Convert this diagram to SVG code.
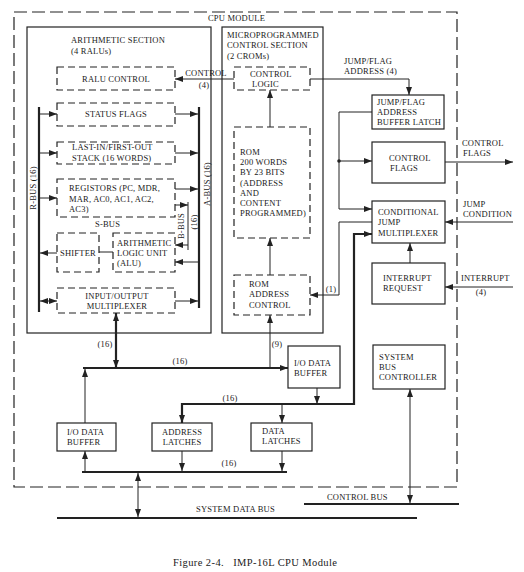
<svg xmlns="http://www.w3.org/2000/svg" width="524" height="572" viewBox="0 0 524 572">
<style>
.t{font-family:"Liberation Serif","Times New Roman",serif;font-size:8.5px;letter-spacing:0.2px;fill:#1a1a1a}
.c{text-anchor:middle}
.box{fill:none;stroke:#222;stroke-width:1.2}
.dbox{fill:none;stroke:#222;stroke-width:1.2;stroke-dasharray:7 4}
.ln{fill:none;stroke:#222;stroke-width:1}
.bus{fill:none;stroke:#222;stroke-width:2.2}
.cap{font-family:"Liberation Serif","Times New Roman",serif;font-size:10.5px;letter-spacing:0.4px;fill:#1a1a1a}
</style>
<defs>
<marker id="ah" viewBox="0 0 8 6" refX="8" refY="3" markerWidth="8" markerHeight="6" markerUnits="userSpaceOnUse" orient="auto-start-reverse"><path d="M0,0 L8,3 L0,6 z" fill="#222"/></marker>
</defs>
<rect width="524" height="572" fill="#fff"/>

<g id="cpu-module">
<rect x="14" y="12" width="443" height="475" fill="none" stroke="#222" stroke-width="1.2" stroke-dasharray="13 5"/>
<text class="t" x="208" y="21">CPU MODULE</text>
</g>

<g id="arithmetic-section">
<rect class="box" x="27" y="27" width="184" height="306"/>
<text class="t" x="71" y="43">ARITHMETIC SECTION</text>
<text class="t" x="71" y="54">(4 RALUs)</text>
</g>
<g id="ralu-control"><rect class="dbox" x="57" y="67" width="118" height="23"/><text class="t c" x="116" y="82">RALU CONTROL</text></g>
<g id="status-flags"><rect class="dbox" x="57" y="103" width="118" height="23"/><text class="t c" x="116" y="117">STATUS FLAGS</text></g>
<g id="lifo"><rect class="dbox" x="57" y="142" width="118" height="22"/><text class="t" x="72" y="150">LAST-IN/FIRST-OUT</text><text class="t" x="72" y="161">STACK (16 WORDS)</text></g>
<g id="registors"><rect class="dbox" x="57" y="179" width="118" height="38"/><text class="t" x="69" y="191">REGISTORS (PC, MDR,</text><text class="t" x="69" y="202">MAR, AC0, AC1, AC2,</text><text class="t" x="69" y="212">AC3)</text></g>
<g id="s-bus-label"><text class="t" x="95" y="227">S-BUS</text></g>
<g id="shifter"><rect class="dbox" x="57" y="233" width="42" height="39"/><text class="t c" x="78" y="256">SHIFTER</text></g>
<g id="alu"><rect class="dbox" x="113" y="233" width="62" height="39"/><text class="t" x="117" y="246">ARITHMETIC</text><text class="t" x="117" y="256">LOGIC UNIT</text><text class="t" x="117" y="266">(ALU)</text></g>
<g id="io-multiplexer"><rect class="dbox" x="57" y="288" width="118" height="25"/><text class="t c" x="117" y="299">INPUT/OUTPUT</text><text class="t c" x="117" y="309">MULTIPLEXER</text></g>

<g id="control-section">
<rect class="box" x="222" y="27" width="101" height="306"/>
<text class="t" x="227" y="38">MICROPROGRAMMED</text>
<text class="t" x="227" y="48">CONTROL SECTION</text>
<text class="t" x="227" y="59">(2 CROMs)</text>
</g>
<g id="control-logic"><rect class="dbox" x="234" y="67" width="76" height="23"/><text class="t" x="250" y="77">CONTROL</text><text class="t" x="252" y="87">LOGIC</text></g>
<g id="rom"><rect class="dbox" x="234" y="127" width="76" height="111"/>
<text class="t" x="240" y="155">ROM</text><text class="t" x="240" y="165">200 WORDS</text><text class="t" x="240" y="175">BY 23 BITS</text><text class="t" x="240" y="186">(ADDRESS</text><text class="t" x="240" y="196">AND</text><text class="t" x="240" y="206">CONTENT</text><text class="t" x="240" y="216">PROGRAMMED)</text></g>
<g id="rom-address-control"><rect class="dbox" x="234" y="275" width="76" height="40"/><text class="t" x="249" y="287">ROM</text><text class="t" x="249" y="297">ADDRESS</text><text class="t" x="249" y="308">CONTROL</text></g>

<g id="jump-flag-latch"><rect class="box" x="372" y="95" width="72" height="34"/><text class="t" x="377" y="105">JUMP/FLAG</text><text class="t" x="377" y="115">ADDRESS</text><text class="t" x="377" y="125">BUFFER LATCH</text></g>
<g id="control-flags"><rect class="box" x="372" y="142" width="73" height="41"/><text class="t" x="389" y="161">CONTROL</text><text class="t" x="390" y="171">FLAGS</text></g>
<g id="cond-jump-mux"><rect class="box" x="372" y="201" width="73" height="42"/><text class="t" x="378" y="215">CONDITIONAL</text><text class="t" x="378" y="225">JUMP</text><text class="t" x="378" y="236">MULTIPLEXER</text></g>
<g id="interrupt-request"><rect class="box" x="372" y="263" width="73" height="41"/><text class="t" x="383" y="281">INTERRUPT</text><text class="t" x="383" y="291">REQUEST</text></g>

<g id="io-data-buffer-mid"><rect class="box" x="288" y="346" width="52" height="42"/><text class="t" x="294" y="366">I/O DATA</text><text class="t" x="294" y="376">BUFFER</text></g>
<g id="system-bus-controller"><rect class="box" x="373" y="345" width="72" height="44"/><text class="t" x="379" y="360">SYSTEM</text><text class="t" x="379" y="370">BUS</text><text class="t" x="379" y="380">CONTROLLER</text></g>
<g id="io-data-buffer-left"><rect class="box" x="57" y="423" width="59" height="28"/><text class="t" x="67" y="435">I/O DATA</text><text class="t" x="67" y="445">BUFFER</text></g>
<g id="address-latches"><rect class="box" x="152" y="423" width="60" height="28"/><text class="t c" x="182" y="435">ADDRESS</text><text class="t c" x="182" y="445">LATCHES</text></g>
<g id="data-latches"><rect class="box" x="251" y="423" width="61" height="28"/><text class="t" x="262" y="434">DATA</text><text class="t" x="262" y="444">LATCHES</text></g>

<g id="connectors">
<path class="bus" d="M39,107 V312"/>
<path class="bus" d="M199,107 V308"/>
<path class="ln" stroke-width="1.6" d="M188,202 V250"/>
<text class="t c" transform="translate(36,188) rotate(-90)">R-BUS (16)</text>
<text class="t c" transform="translate(210,184) rotate(-90)">A-BUS (16)</text>
<text class="t c" transform="translate(184,226) rotate(-90)">B-BUS</text>
<text class="t c" transform="translate(197,222) rotate(-90)">(16)</text>
<path class="ln" marker-end="url(#ah)" d="M39,114 H57"/>
<path class="ln" marker-end="url(#ah)" d="M175,114 H198"/>
<path class="ln" marker-end="url(#ah)" d="M39,153 H57"/>
<path class="ln" marker-end="url(#ah)" d="M175,153 H198"/>
<path class="ln" marker-end="url(#ah)" d="M39,198 H57"/>
<path class="ln" marker-end="url(#ah)" d="M175,189 H198"/>
<path class="ln" marker-end="url(#ah)" d="M175,205 H188"/>
<path class="ln" marker-end="url(#ah)" d="M188,245 H175"/>
<path class="ln" marker-end="url(#ah)" d="M199,262 H175"/>
<path class="ln" d="M99,252 H113"/>
<path class="ln" marker-end="url(#ah)" d="M57,253 H40"/>
<path class="ln" marker-start="url(#ah)" marker-end="url(#ah)" d="M40,301 H57"/>
<path class="ln" marker-end="url(#ah)" d="M175,301 H198"/>
<path class="ln" marker-end="url(#ah)" d="M234,79 H175"/>
<text class="t c" x="206" y="76">CONTROL</text>
<text class="t c" x="204" y="88">(4)</text>
<path class="ln" stroke-width="1.5" marker-end="url(#ah)" d="M270,127 V90"/>
<path class="ln" stroke-width="1.5" marker-end="url(#ah)" d="M270,275 V238"/>
<path class="ln" stroke-width="1.8" marker-end="url(#ah)" d="M270,368 V315"/>
<text class="t c" x="277" y="347">(9)</text>
<path class="ln" marker-end="url(#ah)" d="M310,79 H409 V95"/>
<text class="t" x="344" y="64">JUMP/FLAG</text>
<text class="t" x="344" y="74">ADDRESS (4)</text>
<path class="ln" marker-end="url(#ah)" d="M372,112 H339 V209 H372"/>
<circle cx="339" cy="161" r="1.8" fill="#222"/>
<path class="ln" marker-end="url(#ah)" d="M339,161 H372"/>
<path class="ln" marker-end="url(#ah)" d="M372,222 H339 V295 H310"/>
<text class="t c" x="331" y="292">(1)</text>
<path class="ln" stroke-width="1.2" marker-end="url(#ah)" d="M410,263 V243"/>
<path class="ln" stroke-width="1.2" marker-end="url(#ah)" d="M513,222 H445"/>
<text class="t" x="463" y="207">JUMP</text>
<text class="t" x="463" y="217">CONDITION</text>
<path class="ln" stroke-width="1.2" marker-end="url(#ah)" d="M513,287 H445"/>
<text class="t" x="461" y="281">INTERRUPT</text>
<text class="t c" x="481" y="295">(4)</text>
<path class="ln" stroke-width="1.2" marker-end="url(#ah)" d="M445,162 H513"/>
<text class="t" x="462" y="146">CONTROL</text>
<text class="t" x="463" y="156">FLAGS</text>
<path class="bus" marker-start="url(#ah)" marker-end="url(#ah)" d="M182,423 V404 H354 V234 H372"/>
<text class="t c" x="230" y="401">(16)</text>
<path class="ln" marker-end="url(#ah)" d="M317,388 V404"/>
<path class="ln" marker-end="url(#ah)" d="M282,404 V423"/>
<path class="bus" marker-end="url(#ah)" d="M83,368 H288"/>
<text class="t c" x="180" y="364">(16)</text>
<path class="bus" marker-start="url(#ah)" marker-end="url(#ah)" d="M116,368 V313"/>
<text class="t c" x="105" y="347">(16)</text>
<path class="ln" marker-end="url(#ah)" d="M85,423 V369"/>
<path class="bus" d="M82,472 H287"/>
<text class="t c" x="229" y="466">(16)</text>
<path class="ln" marker-end="url(#ah)" d="M85,471 V451"/>
<path class="ln" stroke-width="1.6" marker-end="url(#ah)" d="M182,451 V471"/>
<path class="ln" marker-end="url(#ah)" d="M282,451 V471"/>
<path class="ln" marker-start="url(#ah)" marker-end="url(#ah)" d="M138,473 V517"/>
<path class="bus" d="M57,518 H417"/>
<text class="t" x="196" y="512">SYSTEM DATA BUS</text>
<path class="bus" d="M304,504 H459"/>
<text class="t" x="327" y="500">CONTROL BUS</text>
<path class="ln" marker-start="url(#ah)" marker-end="url(#ah)" d="M410,389 V503"/>
</g>

<g id="caption"><text class="cap" x="173" y="566">Figure 2-4.&#160;&#160;&#160;IMP-16L CPU Module</text></g>
</svg>
